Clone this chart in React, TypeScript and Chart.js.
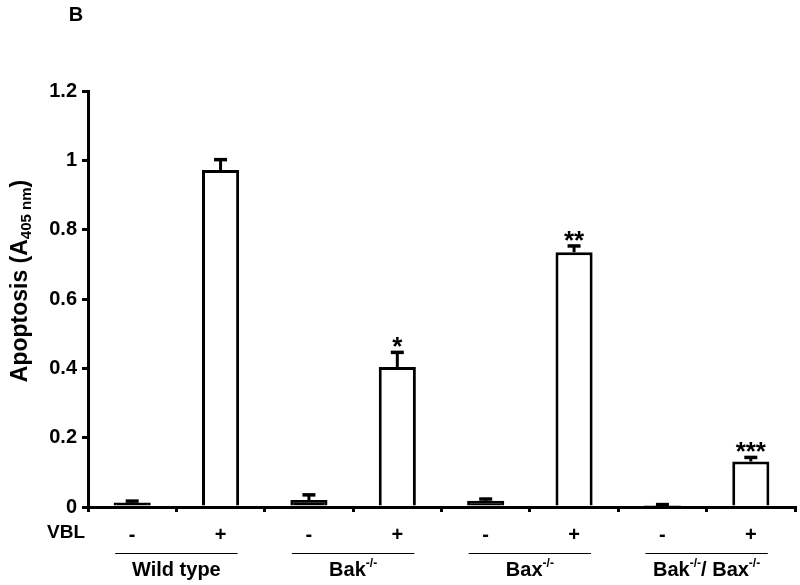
import React, { useEffect, useRef } from "react";
import { Chart, registerables } from "chart.js";

Chart.register(...registerables);

const categories = ["-", "+", "-", "+", "-", "+", "-", "+"];
const values = [0.013, 0.972, 0.02, 0.404, 0.018, 0.735, 0.006, 0.131];
const errors = [0.004, 0.03, 0.015, 0.042, 0.005, 0.018, 0.001, 0.012];
const stars = ["", "", "", "*", "", "**", "", "***"];
const groups = [
  { main: "Wild type", parts: [["Wild type", false]] },
  { main: "Bak-/-", parts: [["Bak", false], ["-/-", true]] },
  { main: "Bax-/-", parts: [["Bax", false], ["-/-", true]] },
  { main: "Bak-/-/ Bax-/-", parts: [["Bak", false], ["-/-", true], ["/ Bax", false], ["-/-", true]] },
];
const yTicks = [0, 0.2, 0.4, 0.6, 0.8, 1, 1.2];

const FONT = "'Liberation Sans', Arial, sans-serif";

const overlay = {
  id: "overlay",
  afterDatasetsDraw(chart: any) {
    const ctx = chart.ctx;
    const y = chart.scales.y;
    const meta = chart.getDatasetMeta(0);
    ctx.save();
    ctx.strokeStyle = "#000";
    ctx.fillStyle = "#000";
    meta.data.forEach((bar: any, i: number) => {
      const cx = bar.x;
      const top = y.getPixelForValue(values[i]);
      const et = y.getPixelForValue(values[i] + errors[i]);
      ctx.lineWidth = 3;
      ctx.beginPath();
      ctx.moveTo(cx, top);
      ctx.lineTo(cx, et);
      ctx.stroke();
      ctx.lineWidth = 3.5;
      ctx.beginPath();
      ctx.moveTo(cx - 6.5, et);
      ctx.lineTo(cx + 6.5, et);
      ctx.stroke();
      if (stars[i]) {
        ctx.font = `bold 26px ${FONT}`;
        ctx.textAlign = "center";
        ctx.textBaseline = "alphabetic";
        ctx.fillText(stars[i], cx, et + 3);
      }
    });
    ctx.restore();
  },
  afterDraw(chart: any) {
    const ctx = chart.ctx;
    const x = chart.scales.x;
    ctx.save();
    ctx.fillStyle = "#000";
    ctx.strokeStyle = "#000";
    ctx.font = `bold 19px ${FONT}`;
    ctx.textAlign = "center";
    ctx.textBaseline = "middle";
    ctx.fillText("VBL", 66, 533);
    groups.forEach((g, gi) => {
      const c0 = x.getPixelForValue(gi * 2);
      const c1 = x.getPixelForValue(gi * 2 + 1);
      ctx.lineWidth = 1;
      ctx.beginPath();
      ctx.moveTo(c0 - 17, 553.5);
      ctx.lineTo(c1 + 17, 553.5);
      ctx.stroke();
      const mainFont = `bold 20px ${FONT}`;
      const supFont = `bold 12px ${FONT}`;
      let w = 0;
      g.parts.forEach(([t, sup]: any) => {
        ctx.font = sup ? supFont : mainFont;
        w += ctx.measureText(t).width;
      });
      let px = (c0 + c1) / 2 - w / 2;
      ctx.textAlign = "left";
      ctx.textBaseline = "alphabetic";
      g.parts.forEach(([t, sup]: any) => {
        ctx.font = sup ? supFont : mainFont;
        ctx.fillText(t, px, sup ? 567 : 576);
        px += ctx.measureText(t).width;
      });
    });
    ctx.translate(19, 281);
    ctx.rotate(-Math.PI / 2);
    const parts: [string, boolean][] = [["Apoptosis (A", false], ["405 nm", true], [")", false]];
    const mf = `bold 23px ${FONT}`;
    const sf = `bold 15px ${FONT}`;
    let tw = 0;
    parts.forEach(([t, s]) => {
      ctx.font = s ? sf : mf;
      tw += ctx.measureText(t).width;
    });
    let tx = -tw / 2;
    ctx.textAlign = "left";
    ctx.textBaseline = "alphabetic";
    parts.forEach(([t, s]) => {
      ctx.font = s ? sf : mf;
      ctx.fillText(t, tx, s ? 12 : 8);
      tx += ctx.measureText(t).width;
    });
    ctx.restore();
    ctx.save();
    ctx.fillStyle = "#000";
    ctx.font = `bold 20px ${FONT}`;
    ctx.textAlign = "center";
    ctx.textBaseline = "middle";
    ctx.fillText("B", 76, 15);
    ctx.restore();
  },
};

export default function App() {
  const ref = useRef<HTMLCanvasElement>(null);
  useEffect(() => {
    if (!ref.current) return;
    const chart = new Chart(ref.current, {
      type: "bar",
      data: {
        labels: categories,
        datasets: [
          {
            data: values,
            backgroundColor: values.map((v) => (v < 0.05 ? "#000" : "#fff")),
            borderColor: "#000",
            borderWidth: 3,
            borderSkipped: "bottom",
            categoryPercentage: 1,
            barPercentage: 0.42,
          },
        ],
      },
      options: {
        animation: false,
        responsive: false,
        maintainAspectRatio: false,
        layout: { padding: { top: 91, right: 5, left: 0, bottom: 0 } },
        plugins: { legend: { display: false }, tooltip: { enabled: false } },
        scales: {
          x: {
            offset: true,
            grid: { offset: true, drawOnChartArea: false, tickLength: 5, color: "#000", lineWidth: 3 },
            border: { color: "#000", width: 3 },
            ticks: { color: "#000", font: { family: FONT, size: 20, weight: "bold" }, padding: 11, maxRotation: 0 },
            afterFit: (s: any) => { s.height = 78; },
          },
          y: {
            min: 0,
            max: 1.2,
            afterBuildTicks: (s: any) => { s.ticks = yTicks.map((v) => ({ value: v })); },
            grid: { drawOnChartArea: false, tickLength: 6, color: "#000", lineWidth: 3 },
            border: { color: "#000", width: 3 },
            ticks: {
              color: "#000",
              font: { family: FONT, size: 20, weight: "bold" },
              padding: 5,
              callback: (v: any) => String(Math.round(Number(v) * 10) / 10),
            },
            afterFit: (s: any) => { s.width = 88; },
          },
        },
      },
      plugins: [overlay],
    });
    return () => chart.destroy();
  }, []);
  return (
    <div style={{ position: "absolute", left: 0, top: 0, width: 800, height: 585, background: "#fff" }}>
      <canvas ref={ref} width={800} height={585} style={{ width: 800, height: 585 }} />
    </div>
  );
}
